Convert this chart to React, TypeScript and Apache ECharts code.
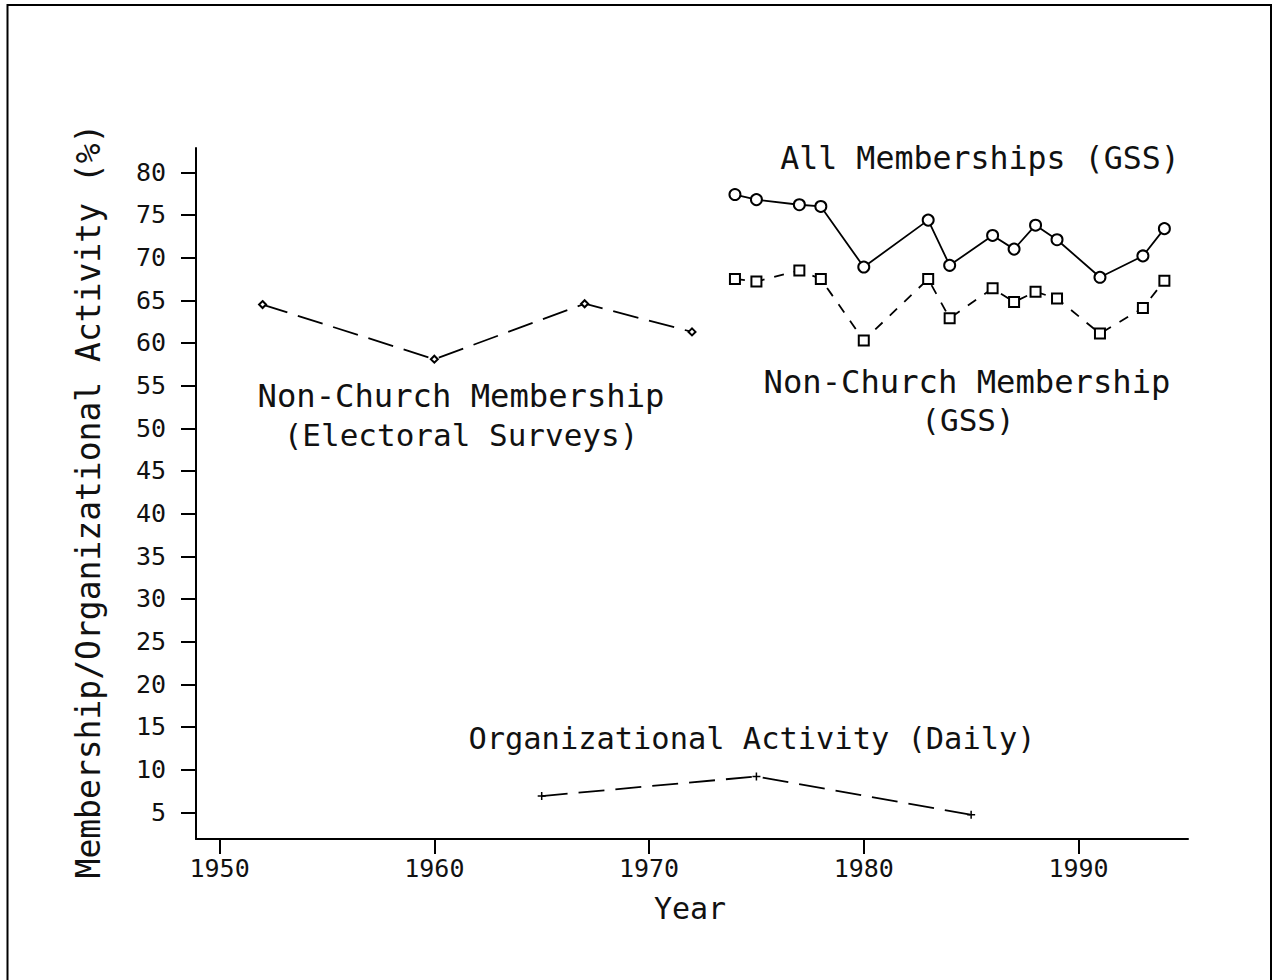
import React, { useEffect, useRef } from "react";
import * as echarts from "echarts";

const gssYears = [1974, 1975, 1977, 1978, 1980, 1983, 1984, 1986, 1987, 1988, 1989, 1991, 1993, 1994];
const allMemberships = [77.4, 76.8, 76.2, 76.0, 68.9, 74.4, 69.1, 72.6, 71.0, 73.8, 72.1, 67.7, 70.2, 73.4];
const nonChurchGss = [67.5, 67.2, 68.5, 67.5, 60.3, 67.5, 62.9, 66.4, 64.8, 66.0, 65.2, 61.1, 64.1, 67.3];
const electoralYears = [1952, 1960, 1967, 1972];
const nonChurchElectoral = [64.5, 58.1, 64.6, 61.3];
const dailyYears = [1965, 1975, 1985];
const orgActivityDaily = [6.9, 9.2, 4.7];
const xTicks = [1950, 1960, 1970, 1980, 1990];
const yTicks = [5, 10, 15, 20, 25, 30, 35, 40, 45, 50, 55, 60, 65, 70, 75, 80];

const FONT = "'DejaVu Sans Mono', monospace";

const pairs = (xs: number[], ys: number[]) => xs.map((x, i) => [x, ys[i]]);

export default function App() {
  const ref = useRef<HTMLDivElement>(null);
  useEffect(() => {
    if (!ref.current) return;
    const chart = echarts.init(ref.current, null, { renderer: "svg" });
    const txt = (text: string, x: number, y: number, size = 31, rotation = 0) => ({
      type: "text",
      x,
      y,
      rotation,
      style: { text, fill: "#111", font: `${size}px ${FONT}`, align: "center", verticalAlign: "middle" },
    });
    chart.setOption({
      animation: false,
      backgroundColor: "#fff",
      grid: { left: 196, right: 85, top: 148, bottom: 141, containLabel: false },
      xAxis: {
        type: "value",
        min: 1948.9,
        max: 1995.1,
        splitLine: { show: false },
        axisLine: { show: true, lineStyle: { color: "#000", width: 2 } },
        axisTick: { show: true, customValues: xTicks, length: 15, lineStyle: { color: "#000", width: 2 } },
        axisLabel: {
          customValues: xTicks,
          formatter: (v: number) => String(v),
          color: "#111",
          fontFamily: FONT,
          fontSize: 25,
          margin: 17,
        },
      },
      yAxis: {
        type: "value",
        min: 1.87,
        max: 82.85,
        splitLine: { show: false },
        axisLine: { show: true, lineStyle: { color: "#000", width: 2 } },
        axisTick: { show: true, customValues: yTicks, length: 15, lineStyle: { color: "#000", width: 2 } },
        axisLabel: {
          customValues: yTicks,
          formatter: (v: number) => String(v),
          color: "#111",
          fontFamily: FONT,
          fontSize: 25,
          margin: 30,
        },
      },
      series: [
        {
          type: "line",
          data: pairs(gssYears, allMemberships),
          symbol: "emptyCircle",
          symbolSize: 11,
          lineStyle: { color: "#000", width: 1.8 },
          itemStyle: { color: "#000", borderColor: "#000", borderWidth: 1.6 },
        },
        {
          type: "line",
          data: pairs(gssYears, nonChurchGss),
          symbol: "emptyRect",
          symbolSize: 10,
          lineStyle: { color: "#000", width: 1.8, type: [10, 10] },
          itemStyle: { color: "#000", borderColor: "#000", borderWidth: 1.6 },
        },
        {
          type: "line",
          data: pairs(electoralYears, nonChurchElectoral),
          symbol: "emptyDiamond",
          symbolSize: 7,
          lineStyle: { color: "#000", width: 1.8, type: [26, 11] },
          itemStyle: { color: "#000", borderColor: "#000", borderWidth: 1.5 },
        },
        {
          type: "line",
          data: pairs(dailyYears, orgActivityDaily),
          symbol: "path://M0,5 L10,5 M5,0 L5,10",
          symbolSize: 8,
          lineStyle: { color: "#000", width: 1.8, type: [26, 11] },
          itemStyle: { color: "none", borderColor: "#000", borderWidth: 1.5 },
        },
      ],
      graphic: [
        {
          type: "polyline",
          shape: { points: [[7.5, 990], [7.5, 5], [1271, 5], [1271, 990]] },
          style: { stroke: "#000", lineWidth: 2, fill: "none" },
        },
        txt("All Memberships (GSS)", 980, 158, 31.6),
        txt("Non-Church Membership", 461, 396, 32.2),
        txt("(Electoral Surveys)", 461, 435, 31),
        txt("Non-Church Membership", 967, 382, 32.2),
        txt("(GSS)", 968, 420, 31),
        txt("Organizational Activity (Daily)", 752, 738, 30.4),
        txt("Year", 690, 908, 30),
        txt("Membership/Organizational Activity (%)", 88, 501, 33, Math.PI / 2),
      ],
    });
    return () => chart.dispose();
  }, []);
  return (
    <div
      ref={ref}
      style={{ position: "fixed", left: 0, top: 0, width: 1273, height: 980, background: "#fff" }}
    />
  );
}
